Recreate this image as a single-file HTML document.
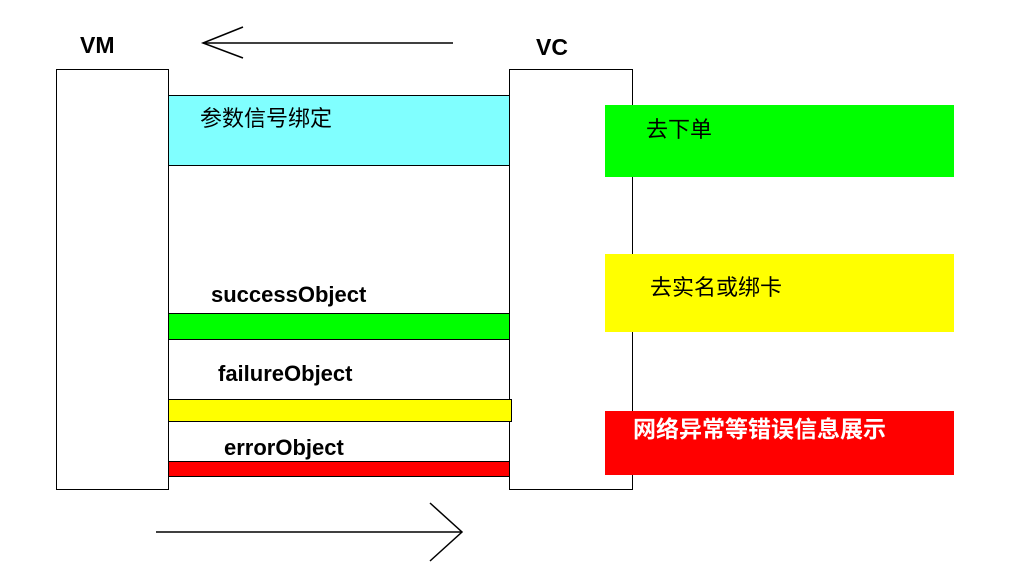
<!DOCTYPE html>
<html><head><meta charset="utf-8"><style>
body{margin:0;width:1030px;height:562px;background:#fff;position:relative;overflow:hidden;font-family:"Liberation Sans","Noto Sans CJK SC",sans-serif}
.a{position:absolute;box-sizing:border-box}
.t{position:absolute;white-space:nowrap;line-height:1}
</style></head><body>
<div class="a" style="left:56px;top:69px;width:113px;height:421px;border:1.5px solid #000"></div>
<div class="a" style="left:509px;top:69px;width:124px;height:421px;border:1.5px solid #000"></div>
<div class="a" style="left:168px;top:95px;width:342px;height:71px;background:#80ffff;border:1.5px solid #000"></div>
<div class="a" style="left:168px;top:313px;width:342px;height:27px;background:#00ff00;border:1.5px solid #000"></div>
<div class="a" style="left:168px;top:399px;width:344px;height:23px;background:#ffff00;border:1.5px solid #000"></div>
<div class="a" style="left:168px;top:461px;width:342px;height:16px;background:#ff0000;border:1.5px solid #000"></div>
<div class="a" style="left:605px;top:105px;width:349px;height:72px;background:#00ff00"></div>
<div class="a" style="left:605px;top:254px;width:349px;height:78px;background:#ffff00"></div>
<div class="a" style="left:605px;top:411px;width:349px;height:64px;background:#ff0000"></div>
<svg class="a" style="left:0;top:0" width="1030" height="562">
<g stroke="#000" stroke-width="1.5" fill="none">
<line x1="203" y1="43" x2="453" y2="43"/><polyline points="243,27 203,43 243,58"/>
<line x1="156" y1="532" x2="462" y2="532"/><polyline points="430,503 462,532 430,561"/>
</g></svg>
<div class="t" style="left:80px;top:34px;font-size:23px;font-weight:bold">VM</div>
<div class="t" style="left:536px;top:36px;font-size:23px;font-weight:bold">VC</div>
<div class="t" style="left:200px;top:108px;font-size:22px">参数信号绑定</div>
<div class="t" style="left:211px;top:284px;font-size:22px;font-weight:bold">successObject</div>
<div class="t" style="left:218px;top:363px;font-size:22px;font-weight:bold">failureObject</div>
<div class="t" style="left:224px;top:437px;font-size:22px;font-weight:bold">errorObject</div>
<div class="t" style="left:646px;top:119px;font-size:22px">去下单</div>
<div class="t" style="left:650px;top:277px;font-size:22px">去实名或绑卡</div>
<div class="t" style="left:633px;top:418px;font-size:23px;font-weight:bold;color:#fff">网络异常等错误信息展示</div>
</body></html>
